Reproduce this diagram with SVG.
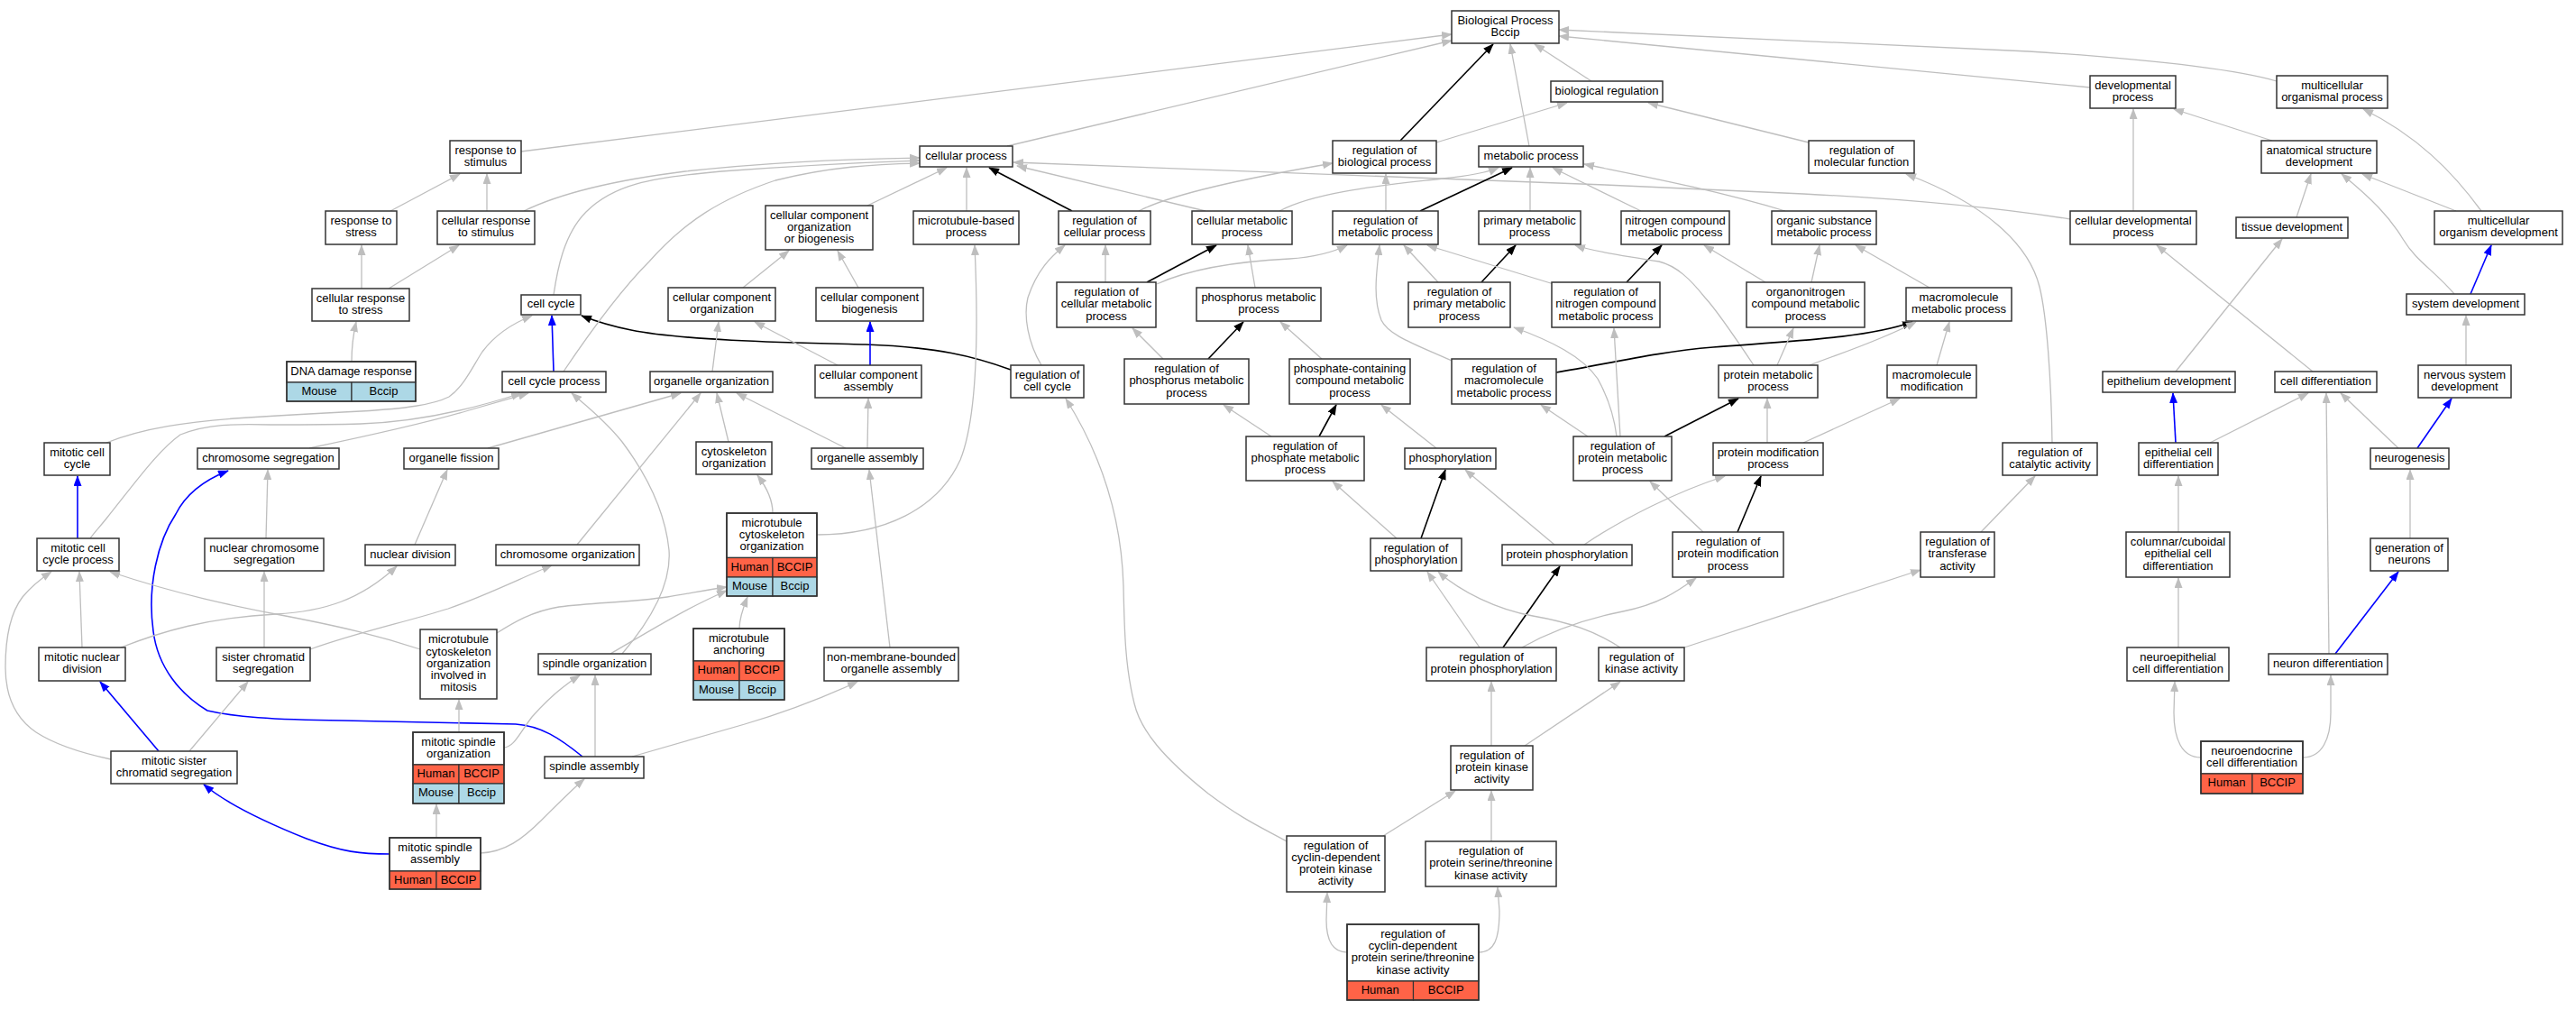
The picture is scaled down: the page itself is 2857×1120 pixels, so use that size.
<svg xmlns="http://www.w3.org/2000/svg" width="2857" height="1120" viewBox="0 0 2857 1120">
<defs>
<style>
text{font-family:"Liberation Sans",Arial,Helvetica,sans-serif;font-size:13px;text-anchor:middle;fill:#000}
.n rect{fill:#fff;stroke:#333;stroke-width:1.5}
.n rect.hu{fill:#ff6347;stroke-width:1.2}
.n rect.mo{fill:#add8e6;stroke-width:1.2}
.n rect.fr{fill:none}
#edges path{fill:none}
.g{stroke:#bebebe;stroke-width:1.3;marker-end:url(#ag)}
.k{stroke:#000;stroke-width:1.6;marker-end:url(#ak)}
.b{stroke:#0000ff;stroke-width:1.6;marker-end:url(#ab)}
</style>
<marker id="ag" viewBox="0 0 12 9" refX="11" refY="4.5" markerWidth="12" markerHeight="9" markerUnits="userSpaceOnUse" orient="auto"><path d="M0,0 L12,4.5 L0,9 z" fill="#bebebe"/></marker>
<marker id="ak" viewBox="0 0 12 9" refX="11" refY="4.5" markerWidth="12" markerHeight="9" markerUnits="userSpaceOnUse" orient="auto"><path d="M0,0 L12,4.5 L0,9 z" fill="#000"/></marker>
<marker id="ab" viewBox="0 0 12 9" refX="11" refY="4.5" markerWidth="12" markerHeight="9" markerUnits="userSpaceOnUse" orient="auto"><path d="M0,0 L12,4.5 L0,9 z" fill="#0000ff"/></marker>
</defs>
<rect width="2857" height="1120" fill="#fff"/>
<g id="edges">
<path class="g" d="M1765,90 L1702,49"/>
<path class="k" d="M1553,156 L1656,49"/>
<path class="g" d="M1696,162 L1675,49"/>
<path class="g" d="M1117,162 L1610,45"/>
<path class="g" d="M578,168 L1610,38"/>
<path class="g" d="M2318,97 L1729,40"/>
<path class="g" d="M2525,90 C2490,80 2420,68 2250,57 L1729,33"/>
<path class="g" d="M2520,156 L2411,121"/>
<path class="g" d="M2752,234 C2720,190 2680,150 2621,121"/>
<path class="g" d="M2724,234 L2620,193"/>
<path class="g" d="M2366,234 L2366,121"/>
<path class="g" d="M2547,241 L2563,193"/>
<path class="g" d="M2722,326 C2700,300 2680,290 2665,265 C2650,240 2630,220 2597,193"/>
<path class="b" d="M2740,326 L2763,272"/>
<path class="g" d="M2296,243 C2200,228 2100,220 2000,215 L1780,205 C1600,199 1400,192 1124,180"/>
<path class="g" d="M2006,158 L1828,114"/>
<path class="g" d="M1593,158 L1738,114"/>
<path class="k" d="M1189,234 L1097,186"/>
<path class="g" d="M1263,234 C1300,215 1380,198 1478,181"/>
<path class="g" d="M1337,234 L1128,184"/>
<path class="g" d="M1419,234 C1460,212 1540,205 1600,198 C1630,195 1650,191 1662,186"/>
<path class="g" d="M1537,234 L1537,193"/>
<path class="k" d="M1575,234 L1677,186"/>
<path class="g" d="M1697,234 L1697,186"/>
<path class="g" d="M1820,234 L1722,186"/>
<path class="g" d="M1980,234 C1900,210 1820,195 1757,182"/>
<path class="g" d="M1226,313 L1226,272"/>
<path class="k" d="M1272,313 L1349,272"/>
<path class="g" d="M1283,315 C1320,298 1370,290 1430,287 C1460,285 1480,279 1494,272"/>
<path class="g" d="M1392,319 L1384,272"/>
<path class="g" d="M1595,313 L1557,272"/>
<path class="k" d="M1643,313 L1681,272"/>
<path class="g" d="M1723,315 L1583,272"/>
<path class="k" d="M1804,313 L1843,272"/>
<path class="g" d="M1958,313 L1890,272"/>
<path class="g" d="M2009,313 L2018,272"/>
<path class="g" d="M2140,319 L2058,272"/>
<path class="g" d="M1945,405 C1925,375 1905,345 1891,330 C1875,310 1860,295 1840,290 C1800,283 1770,280 1747,272"/>
<path class="g" d="M1610,400 C1570,382 1540,372 1532,355 C1522,330 1527,300 1530,272"/>
<path class="k" d="M1726,413 C1790,402 1840,390 1900,385 C1990,378 2070,375 2121,357"/>
<path class="g" d="M2007,405 C2040,392 2080,380 2125,357"/>
<path class="g" d="M2148,405 L2162,357"/>
<path class="g" d="M1793,484 C1790,460 1782,438 1772,420 C1755,395 1720,378 1679,363"/>
<path class="g" d="M1797,484 L1790,364"/>
<path class="g" d="M1761,484 L1709,449"/>
<path class="k" d="M1846,484 L1928,442"/>
<path class="g" d="M1960,491 L1960,442"/>
<path class="g" d="M2000,491 L2107,442"/>
<path class="g" d="M1971,405 L1989,364"/>
<path class="g" d="M1889,590 L1830,534"/>
<path class="k" d="M1927,590 L1953,528"/>
<path class="g" d="M1757,604 C1800,575 1860,545 1913,528"/>
<path class="g" d="M1724,604 L1625,521"/>
<path class="k" d="M1576,597 L1603,521"/>
<path class="g" d="M1549,597 L1478,534"/>
<path class="g" d="M1410,484 L1357,449"/>
<path class="k" d="M1463,484 L1482,449"/>
<path class="g" d="M1593,497 L1532,449"/>
<path class="g" d="M1290,398 L1256,364"/>
<path class="k" d="M1340,398 L1379,357"/>
<path class="g" d="M1466,398 L1420,357"/>
<path class="k" d="M1121,410 C1080,395 1040,385 960,382 C880,380 760,378 700,366 C675,361 660,356 645,350"/>
<path class="g" d="M1155,405 C1140,380 1135,350 1140,330 C1150,300 1165,285 1181,272"/>
<path class="g" d="M1427,933 C1400,918 1380,910 1340,880 C1290,840 1265,810 1258,780 C1248,740 1247,700 1246,650 C1244,580 1225,510 1182,442"/>
<path class="g" d="M1534,927 L1614,877"/>
<path class="g" d="M1654,933 L1654,877"/>
<path class="g" d="M1494,1056 C1476,1056 1471,1040 1471,1020 L1472,990"/>
<path class="g" d="M1640,1056 C1658,1056 1663,1040 1663,1010 L1661,984"/>
<path class="g" d="M1654,827 L1654,756"/>
<path class="g" d="M1691,827 L1797,756"/>
<path class="g" d="M1641,718 L1583,634"/>
<path class="k" d="M1667,718 L1730,628"/>
<path class="g" d="M1688,718 C1720,700 1760,686 1800,678 C1840,670 1860,656 1881,641"/>
<path class="g" d="M1797,718 C1770,700 1740,690 1700,683 C1660,676 1620,656 1595,634"/>
<path class="g" d="M1868,718 L2130,632"/>
<path class="g" d="M2197,590 L2257,528"/>
<path class="g" d="M2276,491 C2275,420 2270,350 2262,318 C2250,270 2200,225 2114,193"/>
<path class="g" d="M2413,412 L2531,265"/>
<path class="g" d="M2565,412 L2392,272"/>
<path class="b" d="M2413,491 L2410,436"/>
<path class="g" d="M2451,491 L2560,436"/>
<path class="g" d="M2660,497 L2596,436"/>
<path class="b" d="M2681,497 L2719,442"/>
<path class="g" d="M2735,405 L2735,350"/>
<path class="g" d="M2673,597 L2673,521"/>
<path class="b" d="M2590,725 L2660,634"/>
<path class="g" d="M2583,725 L2580,436"/>
<path class="g" d="M2416,590 L2416,528"/>
<path class="g" d="M2416,718 L2416,641"/>
<path class="g" d="M2441,840 C2420,840 2411,820 2411,790 L2412,756"/>
<path class="g" d="M2554,840 C2575,840 2585,820 2585,790 L2585,749"/>
<path class="g" d="M433,234 L510,193"/>
<path class="g" d="M540,234 L540,193"/>
<path class="g" d="M581,234 C620,215 680,200 760,190 C850,180 950,176 1020,175"/>
<path class="g" d="M401,320 L401,272"/>
<path class="g" d="M431,320 L509,272"/>
<path class="g" d="M390,401 C390,385 392,370 395,357"/>
<path class="g" d="M962,228 L1050,186"/>
<path class="g" d="M1072,234 L1072,186"/>
<path class="g" d="M614,327 C618,300 625,260 650,235 C680,205 720,197 800,190 C880,184 960,180 1020,178"/>
<path class="g" d="M625,412 C660,360 690,320 720,290 C760,245 800,220 860,200 C920,185 970,182 1020,181"/>
<path class="b" d="M614,412 L612,350"/>
<path class="g" d="M118,491 C160,474 210,468 260,464 C320,460 360,458 400,456 C450,453 480,449 498,440 C515,428 525,405 535,390 C550,370 570,358 590,350"/>
<path class="g" d="M100,597 C105,590 110,585 118,575 C150,535 175,500 200,482 C230,470 260,470 300,471 C340,471 370,471 400,470 C460,468 520,455 578,436"/>
<path class="g" d="M343,497 C400,485 480,467 520,455 C545,448 565,442 586,436"/>
<path class="b" d="M86,597 L86,528"/>
<path class="b" d="M646,839 C620,818 600,805 572,803 L380,799 C300,798 260,795 230,788 C200,770 175,740 170,700 C163,650 175,600 195,570 C205,550 225,533 253,522"/>
<path class="b" d="M176,833 L111,756"/>
<path class="b" d="M433,947 C400,947 380,945 340,930 C290,910 250,890 226,870"/>
<path class="g" d="M210,833 L275,756"/>
<path class="g" d="M123,842 C90,835 60,825 40,812 C15,795 6,770 6,740 C6,700 15,675 25,662 C35,650 45,642 57,634"/>
<path class="g" d="M91,718 L88,634"/>
<path class="g" d="M134,718 C180,700 230,685 306,681 C360,678 400,665 440,628"/>
<path class="g" d="M466,720 C420,705 380,695 306,681 C260,672 200,660 122,634"/>
<path class="g" d="M551,702 C570,690 590,678 620,673 C660,668 700,668 740,662 C765,658 785,654 806,651"/>
<path class="g" d="M293,718 L293,634"/>
<path class="g" d="M344,720 C400,700 450,690 497,675 C540,660 580,640 612,627"/>
<path class="g" d="M295,597 L297,521"/>
<path class="g" d="M460,604 L496,521"/>
<path class="g" d="M640,604 L777,436"/>
<path class="g" d="M541,497 L755,436"/>
<path class="g" d="M808,490 L795,436"/>
<path class="g" d="M938,497 L817,436"/>
<path class="g" d="M962,497 L963,442"/>
<path class="g" d="M790,412 L797,357"/>
<path class="g" d="M929,405 L837,357"/>
<path class="b" d="M965,405 L965,357"/>
<path class="g" d="M824,319 L875,278"/>
<path class="g" d="M952,319 L929,278"/>
<path class="g" d="M857,569 C857,555 850,540 840,527"/>
<path class="g" d="M906,593 C980,593 1040,565 1065,510 C1085,460 1085,360 1081,272"/>
<path class="g" d="M820,697 C820,685 825,672 829,662"/>
<path class="g" d="M677,725 C720,700 760,675 806,655"/>
<path class="g" d="M690,725 C720,690 745,650 742,610 C738,570 720,530 690,490 C670,465 650,450 634,436"/>
<path class="g" d="M987,718 L964,521"/>
<path class="g" d="M509,812 L509,776"/>
<path class="g" d="M559,829 C570,828 575,815 590,795 C605,778 625,760 643,749"/>
<path class="g" d="M484,929 L484,892"/>
<path class="g" d="M533,946 C560,945 580,930 600,910 C620,890 635,875 648,864"/>
<path class="g" d="M660,839 L660,749"/>
<path class="g" d="M701,839 C750,825 790,813 826,803 C870,790 910,775 951,756"/>
</g>
<g id="n_bp" class="n"><rect x="1610" y="12" width="119" height="36"/><text x="1669.5" y="26.5">Biological Process</text><text x="1669.5" y="39.7">Bccip</text></g>
<g id="n_bioreg" class="n"><rect x="1720" y="90" width="124" height="23"/><text x="1782" y="104.8">biological regulation</text></g>
<g id="n_devproc" class="n"><rect x="2318" y="84" width="95" height="36"/><text x="2365.5" y="98.5">developmental</text><text x="2365.5" y="111.7">process</text></g>
<g id="n_multorg" class="n"><rect x="2525" y="84" width="123" height="36"/><text x="2586.5" y="98.5">multicellular</text><text x="2586.5" y="111.7">organismal process</text></g>
<g id="n_respstim" class="n"><rect x="499" y="156" width="79" height="36"/><text x="538.5" y="170.5">response to</text><text x="538.5" y="183.7">stimulus</text></g>
<g id="n_cellproc" class="n"><rect x="1020" y="162" width="103" height="23"/><text x="1071.5" y="176.8">cellular process</text></g>
<g id="n_regbio" class="n"><rect x="1478" y="156" width="115" height="36"/><text x="1535.5" y="170.5">regulation of</text><text x="1535.5" y="183.7">biological process</text></g>
<g id="n_metab" class="n"><rect x="1640" y="162" width="116" height="23"/><text x="1698" y="176.8">metabolic process</text></g>
<g id="n_regmol" class="n"><rect x="2006" y="156" width="117" height="36"/><text x="2064.5" y="170.5">regulation of</text><text x="2064.5" y="183.7">molecular function</text></g>
<g id="n_anat" class="n"><rect x="2508" y="156" width="128" height="36"/><text x="2572" y="170.5">anatomical structure</text><text x="2572" y="183.7">development</text></g>
<g id="n_respstress" class="n"><rect x="361" y="234" width="79" height="37"/><text x="400.5" y="249">response to</text><text x="400.5" y="262.2">stress</text></g>
<g id="n_cellrespstim" class="n"><rect x="485" y="234" width="108" height="37"/><text x="539" y="249">cellular response</text><text x="539" y="262.2">to stimulus</text></g>
<g id="n_ccob" class="n"><rect x="849" y="228" width="119" height="49"/><text x="908.5" y="242.6">cellular component</text><text x="908.5" y="255.8">organization</text><text x="908.5" y="269">or biogenesis</text></g>
<g id="n_mtb" class="n"><rect x="1013" y="234" width="117" height="37"/><text x="1071.5" y="249">microtubule-based</text><text x="1071.5" y="262.2">process</text></g>
<g id="n_regcell" class="n"><rect x="1174" y="234" width="102" height="37"/><text x="1225" y="249">regulation of</text><text x="1225" y="262.2">cellular process</text></g>
<g id="n_cellmet" class="n"><rect x="1322" y="234" width="111" height="37"/><text x="1377.5" y="249">cellular metabolic</text><text x="1377.5" y="262.2">process</text></g>
<g id="n_regmet" class="n"><rect x="1478" y="234" width="117" height="37"/><text x="1536.5" y="249">regulation of</text><text x="1536.5" y="262.2">metabolic process</text></g>
<g id="n_primmet" class="n"><rect x="1640" y="234" width="113" height="37"/><text x="1696.5" y="249">primary metabolic</text><text x="1696.5" y="262.2">process</text></g>
<g id="n_nitro" class="n"><rect x="1798" y="234" width="120" height="37"/><text x="1858" y="249">nitrogen compound</text><text x="1858" y="262.2">metabolic process</text></g>
<g id="n_orgsub" class="n"><rect x="1965" y="234" width="116" height="37"/><text x="2023" y="249">organic substance</text><text x="2023" y="262.2">metabolic process</text></g>
<g id="n_celldev" class="n"><rect x="2296" y="234" width="140" height="37"/><text x="2366" y="249">cellular developmental</text><text x="2366" y="262.2">process</text></g>
<g id="n_tissue" class="n"><rect x="2480" y="241" width="124" height="23"/><text x="2542" y="255.8">tissue development</text></g>
<g id="n_multdev" class="n"><rect x="2700" y="234" width="142" height="37"/><text x="2771" y="249">multicellular</text><text x="2771" y="262.2">organism development</text></g>
<g id="n_cellrespstress" class="n"><rect x="346" y="320" width="108" height="36"/><text x="400" y="334.5">cellular response</text><text x="400" y="347.7">to stress</text></g>
<g id="n_cellcycle" class="n"><rect x="578" y="327" width="66" height="22"/><text x="611" y="341.3">cell cycle</text></g>
<g id="n_cco" class="n"><rect x="741" y="319" width="119" height="37"/><text x="800.5" y="334">cellular component</text><text x="800.5" y="347.2">organization</text></g>
<g id="n_ccb" class="n"><rect x="905" y="319" width="119" height="37"/><text x="964.5" y="334">cellular component</text><text x="964.5" y="347.2">biogenesis</text></g>
<g id="n_regcellmet" class="n"><rect x="1172" y="313" width="110" height="50"/><text x="1227" y="328.1">regulation of</text><text x="1227" y="341.3">cellular metabolic</text><text x="1227" y="354.5">process</text></g>
<g id="n_phosmet" class="n"><rect x="1327" y="319" width="138" height="37"/><text x="1396" y="334">phosphorus metabolic</text><text x="1396" y="347.2">process</text></g>
<g id="n_regprim" class="n"><rect x="1562" y="313" width="113" height="50"/><text x="1618.5" y="328.1">regulation of</text><text x="1618.5" y="341.3">primary metabolic</text><text x="1618.5" y="354.5">process</text></g>
<g id="n_regnitro" class="n"><rect x="1721" y="313" width="120" height="50"/><text x="1781" y="328.1">regulation of</text><text x="1781" y="341.3">nitrogen compound</text><text x="1781" y="354.5">metabolic process</text></g>
<g id="n_organonitro" class="n"><rect x="1937" y="313" width="131" height="50"/><text x="2002.5" y="328.1">organonitrogen</text><text x="2002.5" y="341.3">compound metabolic</text><text x="2002.5" y="354.5">process</text></g>
<g id="n_macromet" class="n"><rect x="2114" y="319" width="117" height="37"/><text x="2172.5" y="334">macromolecule</text><text x="2172.5" y="347.2">metabolic process</text></g>
<g id="n_sysdev" class="n"><rect x="2669" y="326" width="131" height="23"/><text x="2734.5" y="340.8">system development</text></g>
<g id="n_dna" class="n"><rect x="318" y="401" width="143" height="23"/><rect class="mo" x="318" y="424" width="72" height="21"/><rect class="mo" x="390" y="424" width="71" height="21"/><rect class="fr" x="318" y="401" width="143" height="44"/><text x="389.5" y="415.8">DNA damage response</text><text x="354" y="437.8">Mouse</text><text x="425.5" y="437.8">Bccip</text></g>
<g id="n_ccp" class="n"><rect x="557" y="412" width="115" height="23"/><text x="614.5" y="426.8">cell cycle process</text></g>
<g id="n_orgorg" class="n"><rect x="721" y="412" width="136" height="23"/><text x="789" y="426.8">organelle organization</text></g>
<g id="n_cca" class="n"><rect x="904" y="405" width="118" height="36"/><text x="963" y="419.5">cellular component</text><text x="963" y="432.7">assembly</text></g>
<g id="n_regcc" class="n"><rect x="1121" y="405" width="81" height="36"/><text x="1161.5" y="419.5">regulation of</text><text x="1161.5" y="432.7">cell cycle</text></g>
<g id="n_regphos" class="n"><rect x="1247" y="398" width="138" height="50"/><text x="1316" y="413.1">regulation of</text><text x="1316" y="426.3">phosphorus metabolic</text><text x="1316" y="439.5">process</text></g>
<g id="n_phoscont" class="n"><rect x="1430" y="398" width="134" height="50"/><text x="1497" y="413.1">phosphate-containing</text><text x="1497" y="426.3">compound metabolic</text><text x="1497" y="439.5">process</text></g>
<g id="n_regmacro" class="n"><rect x="1610" y="398" width="116" height="50"/><text x="1668" y="413.1">regulation of</text><text x="1668" y="426.3">macromolecule</text><text x="1668" y="439.5">metabolic process</text></g>
<g id="n_protmet" class="n"><rect x="1906" y="405" width="110" height="36"/><text x="1961" y="419.5">protein metabolic</text><text x="1961" y="432.7">process</text></g>
<g id="n_macromod" class="n"><rect x="2093" y="405" width="99" height="36"/><text x="2142.5" y="419.5">macromolecule</text><text x="2142.5" y="432.7">modification</text></g>
<g id="n_epidev" class="n"><rect x="2332" y="412" width="147" height="23"/><text x="2405.5" y="426.8">epithelium development</text></g>
<g id="n_celldiff" class="n"><rect x="2523" y="412" width="113" height="23"/><text x="2579.5" y="426.8">cell differentiation</text></g>
<g id="n_nervous" class="n"><rect x="2682" y="405" width="103" height="36"/><text x="2733.5" y="419.5">nervous system</text><text x="2733.5" y="432.7">development</text></g>
<g id="n_mcc" class="n"><rect x="49" y="491" width="73" height="36"/><text x="85.5" y="505.5">mitotic cell</text><text x="85.5" y="518.7">cycle</text></g>
<g id="n_chromseg" class="n"><rect x="219" y="497" width="157" height="23"/><text x="297.5" y="511.8">chromosome segregation</text></g>
<g id="n_orgfis" class="n"><rect x="448" y="497" width="105" height="23"/><text x="500.5" y="511.8">organelle fission</text></g>
<g id="n_cyto" class="n"><rect x="772" y="490" width="84" height="36"/><text x="814" y="504.5">cytoskeleton</text><text x="814" y="517.7">organization</text></g>
<g id="n_orgass" class="n"><rect x="900" y="497" width="124" height="23"/><text x="962" y="511.8">organelle assembly</text></g>
<g id="n_regphosphate" class="n"><rect x="1382" y="484" width="131" height="49"/><text x="1447.5" y="498.6">regulation of</text><text x="1447.5" y="511.8">phosphate metabolic</text><text x="1447.5" y="525">process</text></g>
<g id="n_phosph" class="n"><rect x="1558" y="497" width="101" height="23"/><text x="1608.5" y="511.8">phosphorylation</text></g>
<g id="n_regprotmet" class="n"><rect x="1745" y="484" width="109" height="49"/><text x="1799.5" y="498.6">regulation of</text><text x="1799.5" y="511.8">protein metabolic</text><text x="1799.5" y="525">process</text></g>
<g id="n_protmod" class="n"><rect x="1900" y="491" width="122" height="36"/><text x="1961" y="505.5">protein modification</text><text x="1961" y="518.7">process</text></g>
<g id="n_regcat" class="n"><rect x="2221" y="491" width="105" height="36"/><text x="2273.5" y="505.5">regulation of</text><text x="2273.5" y="518.7">catalytic activity</text></g>
<g id="n_epicell" class="n"><rect x="2372" y="491" width="88" height="36"/><text x="2416" y="505.5">epithelial cell</text><text x="2416" y="518.7">differentiation</text></g>
<g id="n_neurogen" class="n"><rect x="2629" y="497" width="87" height="23"/><text x="2672.5" y="511.8">neurogenesis</text></g>
<g id="n_mccp" class="n"><rect x="41" y="597" width="91" height="36"/><text x="86.5" y="611.5">mitotic cell</text><text x="86.5" y="624.7">cycle process</text></g>
<g id="n_ncs" class="n"><rect x="227" y="597" width="132" height="36"/><text x="293" y="611.5">nuclear chromosome</text><text x="293" y="624.7">segregation</text></g>
<g id="n_nucdiv" class="n"><rect x="405" y="604" width="100" height="23"/><text x="455" y="618.8">nuclear division</text></g>
<g id="n_chromorg" class="n"><rect x="550" y="604" width="159" height="23"/><text x="629.5" y="618.8">chromosome organization</text></g>
<g id="n_mtco" class="n"><rect x="806" y="569" width="100" height="49.5"/><rect class="hu" x="806" y="618.5" width="51" height="21.5"/><rect class="hu" x="857" y="618.5" width="49" height="21.5"/><rect class="mo" x="806" y="640" width="51" height="21"/><rect class="mo" x="857" y="640" width="49" height="21"/><rect class="fr" x="806" y="569" width="100" height="92"/><text x="856" y="583.9">microtubule</text><text x="856" y="597.1">cytoskeleton</text><text x="856" y="610.3">organization</text><text x="831.5" y="632.5">Human</text><text x="881.5" y="632.5">BCCIP</text><text x="831.5" y="653.8">Mouse</text><text x="881.5" y="653.8">Bccip</text></g>
<g id="n_regphosphorylation" class="n"><rect x="1520" y="597" width="101" height="36"/><text x="1570.5" y="611.5">regulation of</text><text x="1570.5" y="624.7">phosphorylation</text></g>
<g id="n_protphos" class="n"><rect x="1666" y="604" width="144" height="23"/><text x="1738" y="618.8">protein phosphorylation</text></g>
<g id="n_regprotmod" class="n"><rect x="1855" y="590" width="123" height="50"/><text x="1916.5" y="605.1">regulation of</text><text x="1916.5" y="618.3">protein modification</text><text x="1916.5" y="631.5">process</text></g>
<g id="n_regtrans" class="n"><rect x="2130" y="590" width="82" height="50"/><text x="2171" y="605.1">regulation of</text><text x="2171" y="618.3">transferase</text><text x="2171" y="631.5">activity</text></g>
<g id="n_columnar" class="n"><rect x="2358" y="590" width="115" height="50"/><text x="2415.5" y="605.1">columnar/cuboidal</text><text x="2415.5" y="618.3">epithelial cell</text><text x="2415.5" y="631.5">differentiation</text></g>
<g id="n_genneur" class="n"><rect x="2629" y="597" width="86" height="36"/><text x="2672" y="611.5">generation of</text><text x="2672" y="624.7">neurons</text></g>
<g id="n_mnd" class="n"><rect x="43" y="718" width="96" height="37"/><text x="91" y="733">mitotic nuclear</text><text x="91" y="746.2">division</text></g>
<g id="n_scs" class="n"><rect x="240" y="718" width="104" height="37"/><text x="292" y="733">sister chromatid</text><text x="292" y="746.2">segregation</text></g>
<g id="n_mtcoim" class="n"><rect x="466" y="698" width="85" height="77"/><text x="508.5" y="713.4">microtubule</text><text x="508.5" y="726.6">cytoskeleton</text><text x="508.5" y="739.8">organization</text><text x="508.5" y="753">involved in</text><text x="508.5" y="766.2">mitosis</text></g>
<g id="n_spindorg" class="n"><rect x="597" y="725" width="125" height="23"/><text x="659.5" y="739.8">spindle organization</text></g>
<g id="n_mtanch" class="n"><rect x="769" y="697" width="101" height="36"/><rect class="hu" x="769" y="733" width="51" height="21.6"/><rect class="hu" x="820" y="733" width="50" height="21.6"/><rect class="mo" x="769" y="754.6" width="51" height="21.4"/><rect class="mo" x="820" y="754.6" width="50" height="21.4"/><rect class="fr" x="769" y="697" width="101" height="79"/><text x="819.5" y="711.5">microtubule</text><text x="819.5" y="724.7">anchoring</text><text x="794.5" y="747.1">Human</text><text x="845" y="747.1">BCCIP</text><text x="794.5" y="768.6">Mouse</text><text x="845" y="768.6">Bccip</text></g>
<g id="n_nonmem" class="n"><rect x="914" y="718" width="149" height="37"/><text x="988.5" y="733">non-membrane-bounded</text><text x="988.5" y="746.2">organelle assembly</text></g>
<g id="n_regprotphos" class="n"><rect x="1582" y="718" width="144" height="37"/><text x="1654" y="733">regulation of</text><text x="1654" y="746.2">protein phosphorylation</text></g>
<g id="n_regkin" class="n"><rect x="1773" y="718" width="95" height="37"/><text x="1820.5" y="733">regulation of</text><text x="1820.5" y="746.2">kinase activity</text></g>
<g id="n_neuroepi" class="n"><rect x="2359" y="718" width="113" height="37"/><text x="2415.5" y="733">neuroepithelial</text><text x="2415.5" y="746.2">cell differentiation</text></g>
<g id="n_neurondiff" class="n"><rect x="2516" y="725" width="132" height="23"/><text x="2582" y="739.8">neuron differentiation</text></g>
<g id="n_mscs" class="n"><rect x="123" y="833" width="140" height="36"/><text x="193" y="847.5">mitotic sister</text><text x="193" y="860.7">chromatid segregation</text></g>
<g id="n_mso" class="n"><rect x="458" y="812" width="101" height="36"/><rect class="hu" x="458" y="848" width="51" height="21"/><rect class="hu" x="509" y="848" width="50" height="21"/><rect class="mo" x="458" y="869" width="51" height="22"/><rect class="mo" x="509" y="869" width="50" height="22"/><rect class="fr" x="458" y="812" width="101" height="79"/><text x="508.5" y="826.5">mitotic spindle</text><text x="508.5" y="839.7">organization</text><text x="483.5" y="861.8">Human</text><text x="534" y="861.8">BCCIP</text><text x="483.5" y="883.3">Mouse</text><text x="534" y="883.3">Bccip</text></g>
<g id="n_spindass" class="n"><rect x="604" y="839" width="110" height="24"/><text x="659" y="854.3">spindle assembly</text></g>
<g id="n_regpka" class="n"><rect x="1609" y="827" width="91" height="49"/><text x="1654.5" y="841.6">regulation of</text><text x="1654.5" y="854.8">protein kinase</text><text x="1654.5" y="868">activity</text></g>
<g id="n_neuroendo" class="n"><rect x="2441" y="822" width="113" height="36"/><rect class="hu" x="2441" y="858" width="57" height="22"/><rect class="hu" x="2498" y="858" width="56" height="22"/><rect class="fr" x="2441" y="822" width="113" height="58"/><text x="2497.5" y="836.5">neuroendocrine</text><text x="2497.5" y="849.7">cell differentiation</text><text x="2469.5" y="872.3">Human</text><text x="2526" y="872.3">BCCIP</text></g>
<g id="n_msa" class="n"><rect x="432" y="929" width="101" height="37"/><rect class="hu" x="432" y="966" width="52" height="20"/><rect class="hu" x="484" y="966" width="49" height="20"/><rect class="fr" x="432" y="929" width="101" height="57"/><text x="482.5" y="944">mitotic spindle</text><text x="482.5" y="957.2">assembly</text><text x="458" y="979.8">Human</text><text x="508.5" y="979.8">BCCIP</text></g>
<g id="n_regcdk" class="n"><rect x="1427" y="927" width="109" height="62"/><text x="1481.5" y="941.5">regulation of</text><text x="1481.5" y="954.7">cyclin-dependent</text><text x="1481.5" y="967.9">protein kinase</text><text x="1481.5" y="981.1">activity</text></g>
<g id="n_regpst" class="n"><rect x="1581" y="933" width="145" height="50"/><text x="1653.5" y="948.1">regulation of</text><text x="1653.5" y="961.3">protein serine/threonine</text><text x="1653.5" y="974.5">kinase activity</text></g>
<g id="n_regcdkst" class="n"><rect x="1494" y="1025" width="146" height="63"/><rect class="hu" x="1494" y="1088" width="73.5" height="21"/><rect class="hu" x="1567.5" y="1088" width="72.5" height="21"/><rect class="fr" x="1494" y="1025" width="146" height="84"/><text x="1567" y="1040">regulation of</text><text x="1567" y="1053.2">cyclin-dependent</text><text x="1567" y="1066.4">protein serine/threonine</text><text x="1567" y="1079.6">kinase activity</text><text x="1530.7" y="1101.8">Human</text><text x="1603.7" y="1101.8">BCCIP</text></g>
</svg>
